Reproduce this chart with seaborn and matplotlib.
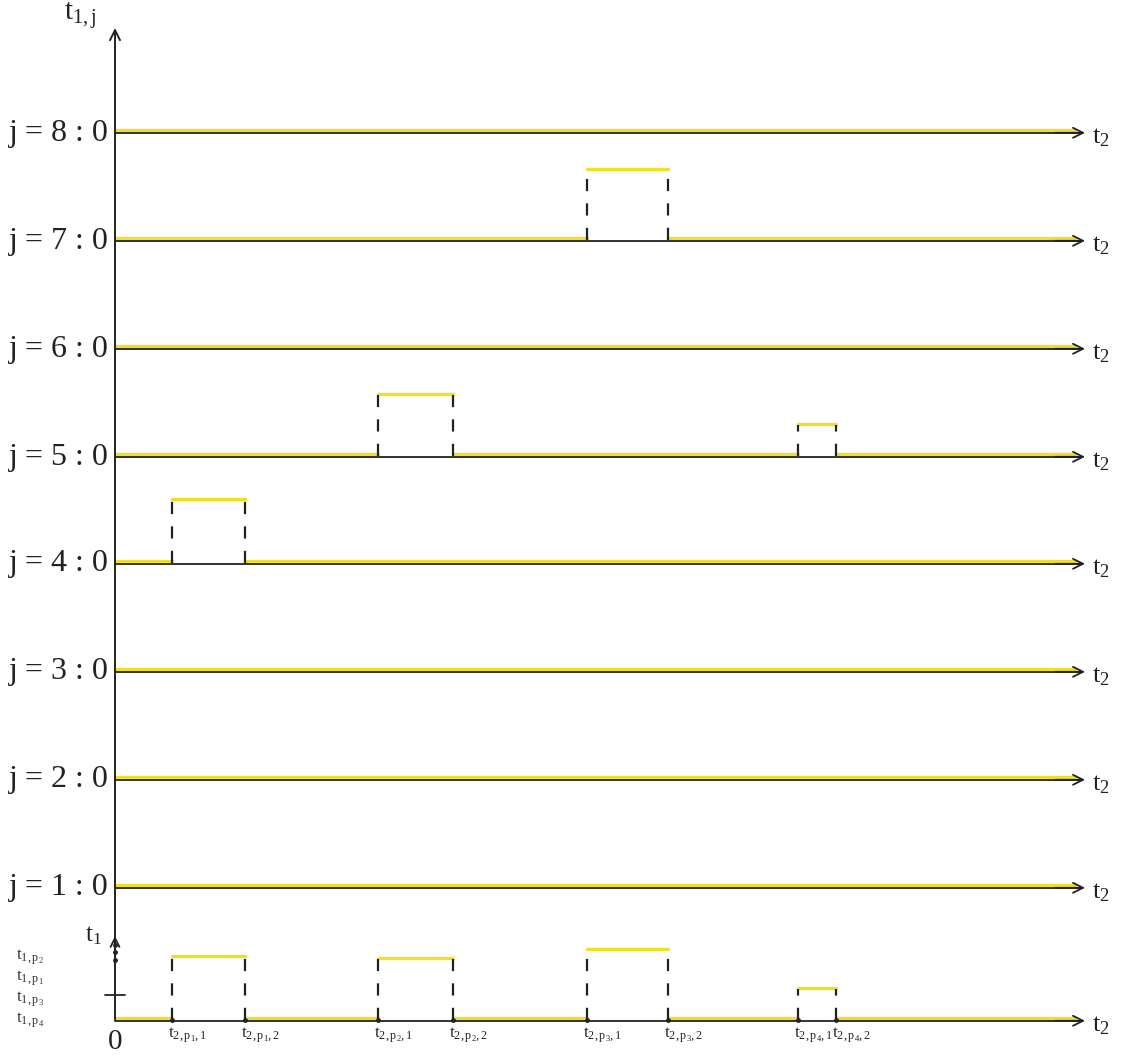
import numpy as np
import pandas as pd
import matplotlib
matplotlib.use("Agg")
import matplotlib.pyplot as plt
import seaborn as sns

sns.set_theme(style="white")
plt.rcParams['font.family'] = ['Liberation Serif', 'DejaVu Serif']
plt.rcParams['mathtext.fontset'] = 'custom'
plt.rcParams['mathtext.rm'] = 'Liberation Serif'
plt.rcParams['mathtext.it'] = 'Liberation Serif'

# pulse data (arbitrary t2 / t1 units)
pulses = ['p1', 'p2', 'p3', 'p4']
t2_start = [57, 263, 472, 683]
t2_end = [130, 338, 553, 721]
t1_height = [64, 62, 71, 32]
# j row in which each pulse appears
pulse_row = [4, 5, 7, 5]

rows = [1, 2, 3, 4, 5, 6, 7, 8]
row_level = [133, 241, 349, 457, 564, 672, 780, 888]
t2_max = 970
t1_tick = 25
left_labels = [r'$\mathrm{t}_{\mathrm{1,p_2}}$', r'$\mathrm{t}_{\mathrm{1,p_1}}$',
               r'$\mathrm{t}_{\mathrm{1,p_3}}$', r'$\mathrm{t}_{\mathrm{1,p_4}}$']

YEL = '#f0e024'
INK = '#222222'

fig = plt.figure(figsize=(11.25, 10.57), dpi=100)
ax = fig.add_axes([0, 0, 1, 1])
ax.set_xlim(-115, 1010)
ax.set_ylim(-37, 1020)
ax.axis('off')


def draw_row(base, items):
    # items: list of (start, end, height)
    items = sorted(items)
    yel = []
    seg = 0
    x0 = 0
    for s, e, h in items:
        yel += [(x0, base + 1.8, seg), (s, base + 1.8, seg)]
        seg += 1
        yel += [(s, base + h, seg), (e, base + h, seg)]
        seg += 1
        x0 = e
    yel += [(x0, base + 1.8, seg), (t2_max - 10, base + 1.8, seg)]
    df = pd.DataFrame(yel, columns=['x', 'y', 'seg'])
    sns.lineplot(data=df, x='x', y='y', units='seg', estimator=None, sort=False,
                 color=YEL, lw=2.4, ax=ax, legend=False)
    # black base line
    ax.plot([0, t2_max - 3], [base - 0.8, base - 0.8], color=INK, lw=1.3)
    ax.annotate('', xy=(t2_max, base - 0.8), xytext=(t2_max - 30, base - 0.8),
                arrowprops=dict(arrowstyle='->', color=INK, lw=1.3,
                                mutation_scale=18, shrinkA=0, shrinkB=0))
    ax.text(t2_max + 7, base - 6, r'$\mathrm{t}_{2}$', fontsize=19, ha='left', va='center',
            color=INK)
    for s, e, h in items:
        for xv in (s, e):
            ax.plot([xv, xv], [base, base + h - 1], color=INK, lw=1.6,
                    dashes=(5.5, 5.5))


# j rows
for j, lev in zip(rows, row_level):
    items = [(s, e, h) for s, e, h, r in zip(t2_start, t2_end, t1_height, pulse_row) if r == j]
    draw_row(lev, items)
    ax.text(-6, lev - 1, f'j = {j} : 0', fontsize=23, ha='right', va='center', color=INK)

# bottom reference row
draw_row(0, list(zip(t2_start, t2_end, t1_height)))
for s, e, p in zip(t2_start, t2_end, pulses):
    ax.plot([s, e], [0, 0], 'o', color=INK, ms=2.5)
    ax.text(s - 4, -15, r'$\mathrm{t}_{\mathrm{2,p_{%s},1}}$' % p[1], fontsize=12.5,
            ha='left', va='center', color=INK)
    ax.text(e - 4, -15, r'$\mathrm{t}_{\mathrm{2,p_{%s},2}}$' % p[1], fontsize=12.5,
            ha='left', va='center', color=INK)

# vertical axis
ax.annotate('', xy=(0, 992), xytext=(0, 0),
            arrowprops=dict(arrowstyle='->', color=INK, lw=1.4,
                            mutation_scale=18, shrinkA=0, shrinkB=0))
ax.text(-35, 1004, r'$\mathrm{t}_{\mathrm{1,j}}$', fontsize=21, ha='center', va='center',
        color=INK)
ax.annotate('', xy=(0, 84), xytext=(0, 55),
            arrowprops=dict(arrowstyle='->', color=INK, lw=1.3,
                            mutation_scale=16, shrinkA=0, shrinkB=0))
ax.text(-22, 84, r'$\mathrm{t}_{1}$', fontsize=18, ha='center', va='center', color=INK)
ax.plot([0, 0, 0], [60, 68, 75], 'o', color=INK, ms=2.5)
ax.plot([-10, 10], [t1_tick, t1_tick], color=INK, lw=1.3)
for i, lab in enumerate(left_labels):
    ax.text(-99, 63 - i * 21, lab, fontsize=12.5, ha='left', va='center', color='#333333')
ax.text(0, -22, '0', fontsize=21, ha='center', va='center', color=INK)

fig.savefig('out.png', dpi=100)
